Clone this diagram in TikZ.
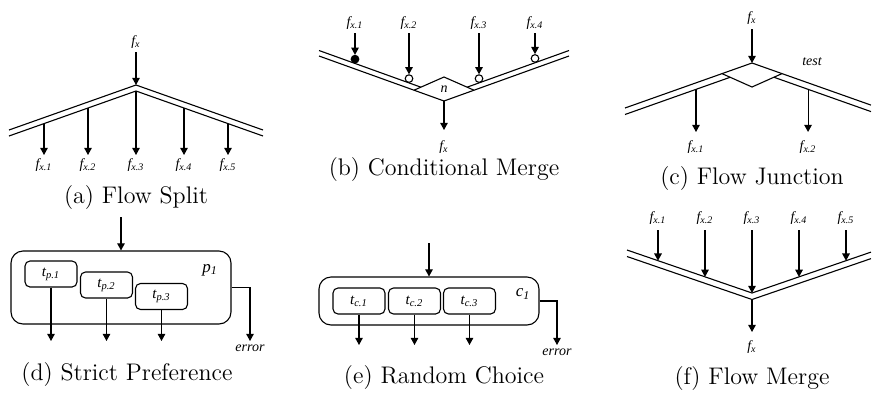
\documentclass[tikz,border=0pt]{standalone}
\usepackage{fontspec}
\newfontfamily\tms{Liberation Serif}
\usetikzlibrary{arrows.meta,calc}
\newcommand\fsb[2]{#1\textsubscript{#2}}
\tikzset{
  lab/.style={font=\tms\itshape\fontsize{7}{8}\selectfont, inner sep=0pt},
  plab/.style={font=\tms\itshape\fontsize{8.5}{9}\selectfont, inner sep=0pt},
  captext/.style={font=\fontsize{12}{14}\selectfont, inner sep=0pt},
  ln/.style={line width=0.55pt},
  arr/.style={line width=0.55pt, -{Triangle[length=3.6pt,width=3.8pt]}},
  bigbox/.style={draw, line width=0.55pt, rounded corners=6pt, inner sep=0pt,
                 minimum width=110pt},
  smallbox/.style={draw, line width=0.55pt, rounded corners=2.5pt, inner sep=0pt,
                 minimum width=26pt, minimum height=13pt, font=\tms\itshape\fontsize{7.5}{8}\selectfont},
  ring/.style={circle, draw, line width=0.55pt, fill=white, inner sep=0pt, minimum size=3.8pt},
  dot/.style={ring, fill=black},
}
\begin{document}
\begin{tikzpicture}[x=0.5pt,y=-0.5pt]
\useasboundingbox (0,0) rectangle (872,392);

% ---------------- (a) Flow Split
\coordinate (aL) at (9,130); \coordinate (aT) at (136,85); \coordinate (aR) at (263,130);
\coordinate (aL2) at (9,136); \coordinate (aT2) at (136,91); \coordinate (aR2) at (263,136);
\draw[ln] (aL) -- (aT) -- (aR);
\draw[ln] (aL2) -- (aT2) -- (aR2);
\node[lab] (afx) at (136,42) {\fsb{f}{x}};
\coordinate (ain) at (136,52);
\draw[arr] (ain) -- (aT);
\coordinate (as1) at ($(aL2)!0.2756!(aT2)$);
\coordinate (as2) at ($(aL2)!0.622!(aT2)$);
\coordinate (as3) at (aT2);
\coordinate (as4) at ($(aR2)!0.622!(aT2)$);
\coordinate (as5) at ($(aR2)!0.2756!(aT2)$);
\foreach \i in {1,...,5}{
  \coordinate (ae\i) at (as\i |- 0,155);
  \draw[arr] (as\i) -- (ae\i);
  \node[lab] (al\i) at ($(as\i |- 0,165)$) {\fsb{f}{x.\i}};
}
\node[captext] (capa) at (136,198) {(a) Flow Split};

% ---------------- (b) Conditional Merge
\coordinate (bL) at (319,56); \coordinate (bB) at (444,101); \coordinate (bR) at (569,56);
\coordinate (bLi) at (319,50.5); \coordinate (bLic) at (444,95.5);
\coordinate (bRi) at (569,50.5); \coordinate (bRic) at (444,95.5);
\coordinate (bT) at (444,77);
\coordinate (bLv) at ($(bL)!0.76!(bB)$);
\coordinate (bRv) at ($(bR)!0.76!(bB)$);
\coordinate (bIl) at (intersection of bLi--bLic and bLv--bT);
\coordinate (bIr) at (intersection of bRi--bRic and bRv--bT);
\draw[ln] (bL) -- (bB) -- (bR);
\draw[ln] (bLi) -- (bIl);
\draw[ln] (bRi) -- (bIr);
\draw[ln] (bLv) -- (bT) -- (bRv);
\node[lab] (bn) at (444,89) {n};
\node[dot]  (bc1) at ($(bLi)!0.288!(bLic)+(0,-4.3)$) {};
\node[ring] (bc2) at ($(bLi)!0.72!(bLic)+(0,-4.3)$) {};
\node[ring] (bc3) at ($(bRi)!0.72!(bRic)+(0,-4.3)$) {};
\node[ring] (bc4) at ($(bRi)!0.272!(bRic)+(0,-4.3)$) {};
\foreach \i in {1,...,4}{
  \node[lab] (bl\i) at ($(bc\i |- 0,23)$) {\fsb{f}{x.\i}};
  \coordinate (bs\i) at (bc\i |- 0,33);
  \draw[arr] (bs\i) -- (bc\i.north);
}
\coordinate (bout) at (444,130);
\draw[arr] (bB) -- (bout);
\node[lab] (bfx) at (444,147) {\fsb{f}{x}};
\node[captext] (capb) at (444,170) {(b) Conditional Merge};

% ---------------- (c) Flow Junction
\coordinate (cT) at (752,63); \coordinate (cL) at (625,108); \coordinate (cR) at (871,105.1);
\coordinate (cLi) at (625,114.5); \coordinate (cLic) at (752,69.5);
\coordinate (cRi) at (871,111.6); \coordinate (cRic) at (752,69.5);
\coordinate (cB) at (752,87);
\coordinate (cLv) at ($(cT)!0.2362!(cL)$);
\coordinate (cRv) at ($(cT)!0.2521!(cR)$);
\coordinate (cIl) at (intersection of cLi--cLic and cLv--cB);
\coordinate (cIr) at (intersection of cRi--cRic and cRv--cB);
\draw[ln] (cL) -- (cT) -- (cR);
\draw[ln] (cLi) -- (cIl);
\draw[ln] (cRi) -- (cIr);
\draw[ln] (cLv) -- (cB) -- (cRv);
\node[lab] (cfx) at (752,18) {\fsb{f}{x}};
\coordinate (cin) at (752,29);
\draw[arr] (cin) -- (cT);
\node[lab] (ctest) at (812,62) {test};
\coordinate (cs1) at ($(cLi)!0.559!(cLic)$);
\coordinate (cs2) at ($(cRi)!0.529!(cRic)$);
\foreach \i in {1,2}{
  \coordinate (ce\i) at (cs\i |- 0,132);
  \draw[arr] (cs\i) -- (ce\i);
  \node[lab] (cl\i) at ($(cs\i |- 0,147)$) {\fsb{f}{x.\i}};
}
\node[captext] (capc) at (752,179) {(c) Flow Junction};

% ---------------- (d) Strict Preference
\node[bigbox, minimum height=36.5pt] (P) at (121,287.5) {};
\node[plab] (p1) at (210,270) {\fsb{p}{1}};
\node[smallbox] (tp1) at (51,274) {\fsb{t}{p.1}};
\node[smallbox] (tp2) at (106.5,285) {\fsb{t}{p.2}};
\node[smallbox] (tp3) at (161.5,296.5) {\fsb{t}{p.3}};
\coordinate (din) at (121,217);
\draw[arr] (din) -- (P.north);
\foreach \i in {1,2,3}{
  \coordinate (de\i) at (tp\i.south |- 0,341);
  \draw[arr] (tp\i.south) -- (de\i);
}
\coordinate (derr) at (250,341);
\draw[arr] (P.east) -| (derr);
\node[lab] (derrl) at (250,348) {error};
\node[captext] (capd) at (127,375) {(d) Strict Preference};

% ---------------- (e) Random Choice
\node[bigbox, minimum height=24pt] (C) at (429,301) {};
\node[plab] (c1) at (523,294) {\fsb{c}{1}};
\node[smallbox] (tc1) at (359,301) {\fsb{t}{c.1}};
\node[smallbox] (tc2) at (414.5,301) {\fsb{t}{c.2}};
\node[smallbox] (tc3) at (469.5,301) {\fsb{t}{c.3}};
\coordinate (ein) at (429,243);
\draw[arr] (ein) -- (C.north);
\foreach \i in {1,2,3}{
  \coordinate (ee\i) at (tc\i.south |- 0,345);
  \draw[arr] (tc\i.south) -- (ee\i);
}
\coordinate (eerr) at (557,345);
\draw[arr] (C.east) -| (eerr);
\node[lab] (eerrl) at (557,352) {error};
\node[captext] (cape) at (444,378) {(e) Random Choice};

% ---------------- (f) Flow Merge
\coordinate (fL) at (627,250); \coordinate (fT) at (752,293); \coordinate (fR) at (871,252.1);
\coordinate (fL2) at (627,256.5); \coordinate (fT2) at (752,299.5); \coordinate (fR2) at (871,258.6);
\draw[ln] (fL) -- (fT) -- (fR);
\draw[ln] (fL2) -- (fT2) -- (fR2);
\coordinate (ft1) at ($(fL)!0.248!(fT)$);
\coordinate (ft2) at ($(fL)!0.624!(fT)$);
\coordinate (ft3) at (fT);
\coordinate (ft4) at ($(fR)!0.605!(fT)$);
\coordinate (ft5) at ($(fR)!0.21!(fT)$);
\foreach \i in {1,...,5}{
  \node[lab] (fl\i) at ($(ft\i |- 0,218)$) {\fsb{f}{x.\i}};
  \coordinate (fs\i) at (ft\i |- 0,230);
  \draw[arr] (fs\i) -- (ft\i);
}
\coordinate (fout) at (752,332);
\draw[arr] (fT2) -- (fout);
\node[lab] (ffx) at (752,347) {\fsb{f}{x}};
\node[captext] (capf) at (752,379) {(f) Flow Merge};
\end{tikzpicture}
\end{document}
